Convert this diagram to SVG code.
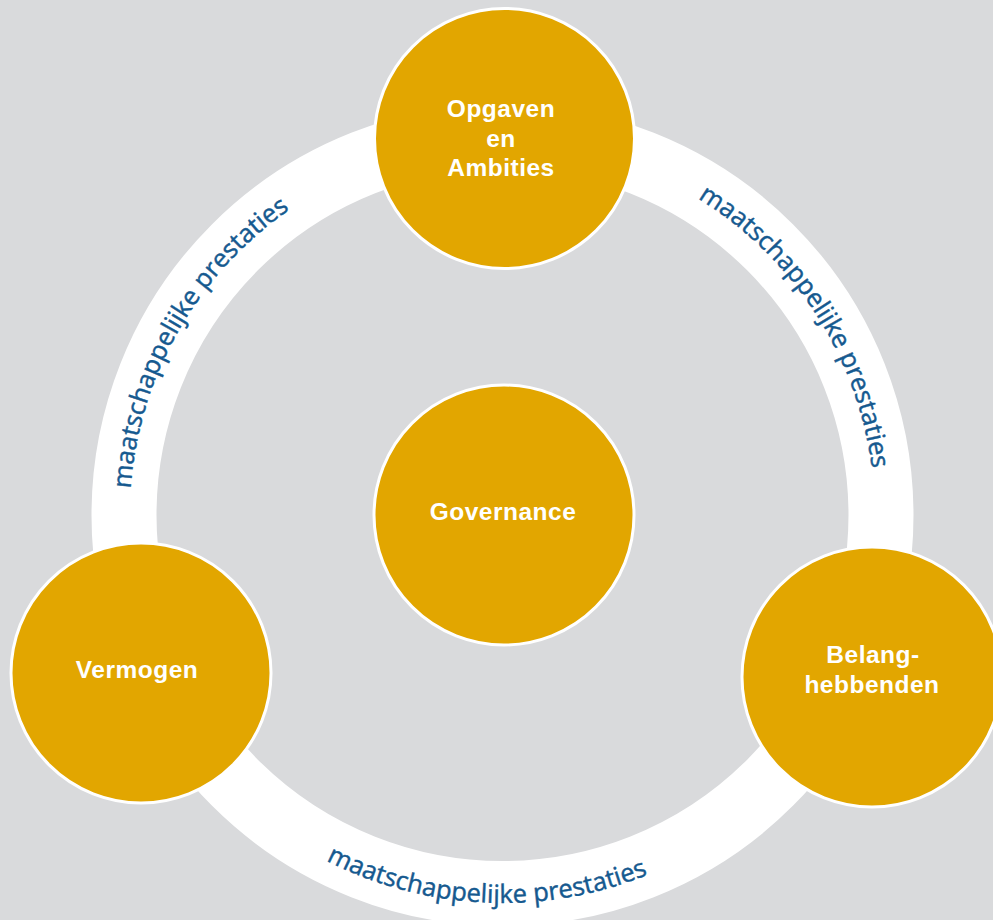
<svg xmlns="http://www.w3.org/2000/svg" xmlns:xlink="http://www.w3.org/1999/xlink" width="993" height="920" viewBox="0 0 993 920">
  <style>
    .node { fill: #e2a600; stroke: #ffffff; stroke-width: 3; }
    .label { font-family: "Liberation Sans", Arial, sans-serif; font-weight: bold; font-size: 24.5px; letter-spacing: 0.5px; fill: #ffffff; text-anchor: middle; }
    .arc-label { font-family: "Open Sans", "Noto Sans", sans-serif; font-size: 25.5px; fill: #15598f; stroke: #15598f; stroke-width: 0.45px; }
  </style>
  <defs>
    <!-- left arc, clockwise, centred at 209.9° -->
    <path id="arcLeft" d="M 136.2 584.0 A 372 372 0 0 1 374.6 165.5" fill="none"/>
    <!-- right arc, clockwise, centred at 327.6° -->
    <path id="arcRight" d="M 612.8 159.8 A 372 372 0 0 1 871.8 561.9" fill="none"/>
    <!-- bottom arc, counter-clockwise, centred at 92.5° -->
    <path id="arcBottom" d="M 240.4 801.1 A 388 388 0 0 0 738.7 822.8" fill="none"/>
  </defs>

  <rect x="0" y="0" width="993" height="920" fill="#d9dadc"/>

  <g id="connectors">
    <circle cx="502.5" cy="515" r="378.5" fill="none" stroke="#ffffff" stroke-width="65"/>
    <text class="arc-label"><textPath xlink:href="#arcLeft" href="#arcLeft" startOffset="50%" text-anchor="middle">maatschappelijke prestaties</textPath></text>
    <text class="arc-label"><textPath xlink:href="#arcRight" href="#arcRight" startOffset="50%" text-anchor="middle">maatschappelijke prestaties</textPath></text>
    <text class="arc-label"><textPath xlink:href="#arcBottom" href="#arcBottom" startOffset="50%" text-anchor="middle">maatschappelijke prestaties</textPath></text>
  </g>

  <g id="node-opgaven">
    <circle class="node" cx="504.5" cy="138.5" r="130"/>
    <text class="label" x="501" y="117">Opgaven</text>
    <text class="label" x="501" y="147">en</text>
    <text class="label" x="501" y="176">Ambities</text>
  </g>

  <g id="node-governance">
    <circle class="node" cx="504" cy="515" r="130"/>
    <text class="label" x="503" y="519.5">Governance</text>
  </g>

  <g id="node-vermogen">
    <circle class="node" cx="141" cy="673" r="130"/>
    <text class="label" x="137" y="678">Vermogen</text>
  </g>

  <g id="node-belanghebbenden">
    <circle class="node" cx="872" cy="677" r="130"/>
    <text class="label" x="873" y="663">Belang-</text>
    <text class="label" x="872" y="693">hebbenden</text>
  </g>
</svg>
